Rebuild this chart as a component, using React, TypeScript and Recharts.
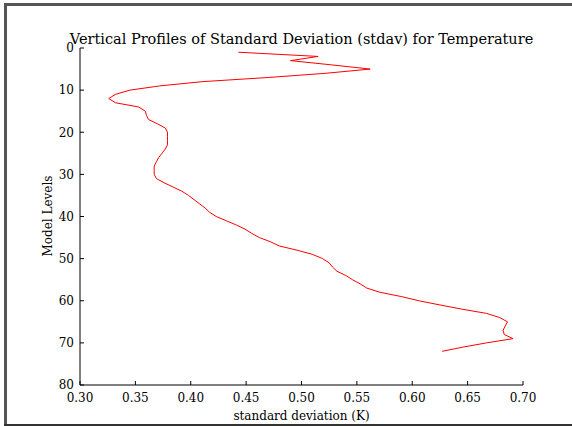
import React from "react";
import { ScatterChart, Scatter, XAxis, YAxis } from "recharts";

const levels = [
  1, 2, 3, 4, 5, 6, 7, 8, 9, 10, 11, 12, 13, 14, 15, 16, 17, 18, 19, 20, 21, 22, 23, 24,
  25, 26, 27, 28, 29, 30, 31, 32, 33, 34, 35, 36, 37, 38, 39, 40, 41, 42, 43, 44, 45, 46,
  47, 48, 49, 50, 51, 52, 53, 54, 55, 56, 57, 58, 59, 60, 61, 62, 63, 64, 65, 66, 67, 68,
  69, 70, 71, 72,
];

const stdav = [
  0.443, 0.515, 0.49, 0.527, 0.562, 0.522, 0.47, 0.41, 0.372, 0.345, 0.332, 0.326,
  0.332, 0.353, 0.359, 0.36, 0.362, 0.37, 0.377, 0.379, 0.379, 0.379, 0.379, 0.377,
  0.374, 0.371, 0.369, 0.367, 0.367, 0.367, 0.369, 0.376, 0.384, 0.392, 0.398, 0.403,
  0.408, 0.413, 0.417, 0.423, 0.432, 0.441, 0.449, 0.455, 0.462, 0.472, 0.48, 0.496,
  0.51, 0.519, 0.525, 0.528, 0.532, 0.54, 0.546, 0.553, 0.559, 0.571, 0.59, 0.606,
  0.625, 0.645, 0.667, 0.679, 0.686, 0.684, 0.682, 0.683, 0.691, 0.667, 0.646, 0.627,
];

const xTicks = [0.3, 0.35, 0.4, 0.45, 0.5, 0.55, 0.6, 0.65, 0.7];
const yTicks = [0, 10, 20, 30, 40, 50, 60, 70, 80];

const title = "Vertical Profiles of Standard Deviation (stdav) for Temperature";
const xLabel = "standard deviation (K)";
const yLabel = "Model Levels";

const data = levels.map((lv, i) => ({ level: lv, value: stdav[i] }));

const FONT = "'DejaVu Serif', serif";
const tickStyle = { fontFamily: FONT, fontSize: 12, fill: "#000" };
const axisLine = { stroke: "#000", strokeWidth: 1 };
const tickLine = { stroke: "#000", strokeWidth: 1 };

const NoDot = () => <g />;

const edge = (s: React.CSSProperties): React.CSSProperties => ({
  position: "absolute",
  pointerEvents: "none",
  ...s,
});

export default function App() {
  return (
    <div
      style={{
        position: "fixed",
        left: 0,
        top: 0,
        width: 572,
        height: 426,
        background: "#fff",
        overflow: "hidden",
      }}
    >
      <div
        style={{
          position: "absolute",
          left: 0,
          width: 603,
          top: 30,
          textAlign: "center",
          fontFamily: FONT,
          fontSize: 14.5,
          lineHeight: "18px",
          color: "#000",
          whiteSpace: "nowrap",
        }}
      >
        {title}
      </div>
      <div style={{ position: "absolute", left: 0, top: 0 }}>
        <ScatterChart
          width={572}
          height={426}
          margin={{ top: 48, right: 49, bottom: 11, left: 40 }}
        >
          <XAxis
            xAxisId="bottom"
            type="number"
            dataKey="value"
            orientation="bottom"
            domain={[0.3, 0.7]}
            ticks={xTicks}
            allowDataOverflow
            height={30}
            tickSize={-4}
            tickMargin={12}
            tick={tickStyle}
            axisLine={axisLine}
            tickLine={tickLine}
            tickFormatter={(v: number) => v.toFixed(2)}
            interval={0}
          />
          <XAxis
            xAxisId="top"
            type="number"
            dataKey="value"
            orientation="top"
            domain={[0.3, 0.7]}
            ticks={xTicks}
            allowDataOverflow
            height={0}
            tickSize={-4}
            tick={false}
            axisLine={axisLine}
            tickLine={tickLine}
            interval={0}
          />
          <YAxis
            yAxisId="left"
            type="number"
            dataKey="level"
            orientation="left"
            domain={[0, 80]}
            ticks={yTicks}
            reversed
            allowDataOverflow
            width={40}
            tickSize={-4}
            tickMargin={10}
            tick={tickStyle}
            axisLine={axisLine}
            tickLine={tickLine}
            interval={0}
          />
          <YAxis
            yAxisId="right"
            type="number"
            dataKey="level"
            orientation="right"
            domain={[0, 80]}
            ticks={yTicks}
            reversed
            allowDataOverflow
            width={0}
            tickSize={-4}
            tick={false}
            axisLine={axisLine}
            tickLine={tickLine}
            interval={0}
          />
          <Scatter
            xAxisId="bottom"
            yAxisId="left"
            data={data}
            line={{ stroke: "#ff0000", strokeWidth: 1 }}
            lineType="joint"
            shape={NoDot}
            fill="#ff0000"
            isAnimationActive={false}
          />
        </ScatterChart>
      </div>
      <div
        style={{
          position: "absolute",
          left: 0,
          width: 603,
          top: 409,
          textAlign: "center",
          fontFamily: FONT,
          fontSize: 12,
          lineHeight: "14px",
          color: "#000",
          whiteSpace: "nowrap",
        }}
      >
        {xLabel}
      </div>
      <div
        style={{
          position: "absolute",
          left: 48,
          top: 216,
          transform: "translate(-50%, -50%) rotate(-90deg)",
          fontFamily: FONT,
          fontSize: 12,
          lineHeight: "14px",
          color: "#000",
          whiteSpace: "nowrap",
        }}
      >
        {yLabel}
      </div>
      <div style={edge({ left: 4, top: 3, width: 3, height: 423, background: "#555" })} />
      <div style={edge({ left: 4, top: 3, width: 568, height: 3, background: "#555" })} />
      <div style={edge({ left: 4, top: 424, width: 568, height: 2, background: "#333" })} />
    </div>
  );
}
